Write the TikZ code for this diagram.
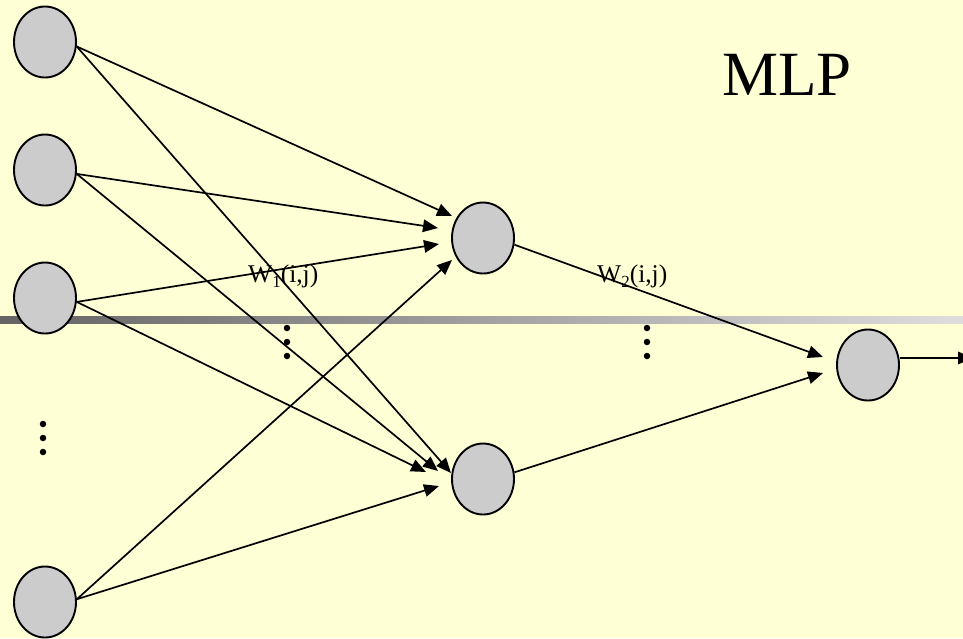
\documentclass[tikz,border=0pt]{standalone}
\usepackage{fontspec}
\setmainfont{Liberation Serif}
\usetikzlibrary{arrows.meta,shapes.geometric}
\definecolor{bgyellow}{RGB}{255,255,214}
\definecolor{nodegray}{RGB}{204,204,204}
\definecolor{bardark}{RGB}{100,100,100}
\definecolor{barlight}{RGB}{222,222,222}
\tikzset{
  neuron/.style={ellipse, draw=black, line width=1.9pt, fill=nodegray,
    minimum width=62pt, minimum height=71pt, inner sep=0pt},
  edge/.style={line width=1.7pt, -{Triangle[length=15pt,width=12.5pt]}},
  vdot/.style={circle, fill=black, inner sep=0pt, minimum size=6.5pt},
  wlabel/.style={inner sep=0pt, anchor=base west, font=\fontsize{25.5}{26}\selectfont},
}
\newcommand{\wsub}[1]{\raisebox{-5pt}{\fontsize{17}{17}\selectfont #1}}
\begin{document}
\begin{tikzpicture}[x=1pt,y=-1pt]
  \useasboundingbox (0,0) rectangle (963,638);
  \fill[bgyellow] (0,0) rectangle (963,638);
  \shade[left color=bardark, right color=barlight] (0,316.7) rectangle (963,323.3);

  % nodes
  \node[neuron] (i1) at (45,42) {};
  \node[neuron] (i2) at (45,170) {};
  \node[neuron] (i3) at (45,298) {};
  \node[neuron] (i4) at (45,602) {};
  \node[neuron] (h1) at (483,238) {};
  \node[neuron] (h2) at (483,479) {};
  \node[neuron] (o1) at (868,365) {};

  % arrow tip coordinates
  \coordinate (t11) at (452,216);
  \coordinate (t21) at (438,228);
  \coordinate (t31) at (439,244);
  \coordinate (t41) at (452,260);
  \coordinate (t12) at (451,473);
  \coordinate (t22) at (438,471);
  \coordinate (t32) at (426,472);
  \coordinate (t42) at (439,486);
  \coordinate (th1) at (823,357);
  \coordinate (th2) at (823,373);
  \coordinate (outend) at (973,358);

  % connectors
  \draw[edge] (i1.-8) -- (t11);
  \draw[edge] (i1.-8) -- (t12);
  \draw[edge] (i2.-7) -- (t21);
  \draw[edge] (i2.-7) -- (t22);
  \draw[edge] (i3.-7) -- (t31);
  \draw[edge] (i3.-7) -- (t32);
  \draw[edge] (i4.5) -- (t41);
  \draw[edge] (i4.5) -- (t42);
  \draw[edge] (h1.-12) -- (th1);
  \draw[edge] (h2.12) -- (th2);
  \draw[edge] (o1.east |- outend) -- (outend);

  % labels
  \node[wlabel] (w1) at (248,282) {W\wsub{1}(i,j)};
  \node[wlabel] (w2) at (597,282) {W\wsub{2}(i,j)};
  \node[inner sep=0pt, anchor=base west, font=\fontsize{63}{63}\selectfont] (mlp) at (722,95) {MLP};

  % vertical dots
  \foreach \y [count=\k] in {328,342,356} {
    \node[vdot] (da\k) at (287,\y) {};
    \node[vdot] (db\k) at (647,\y) {};
  }
  \foreach \y [count=\k] in {424,438,452} {
    \node[vdot] (dc\k) at (43,\y) {};
  }
\end{tikzpicture}
\end{document}
